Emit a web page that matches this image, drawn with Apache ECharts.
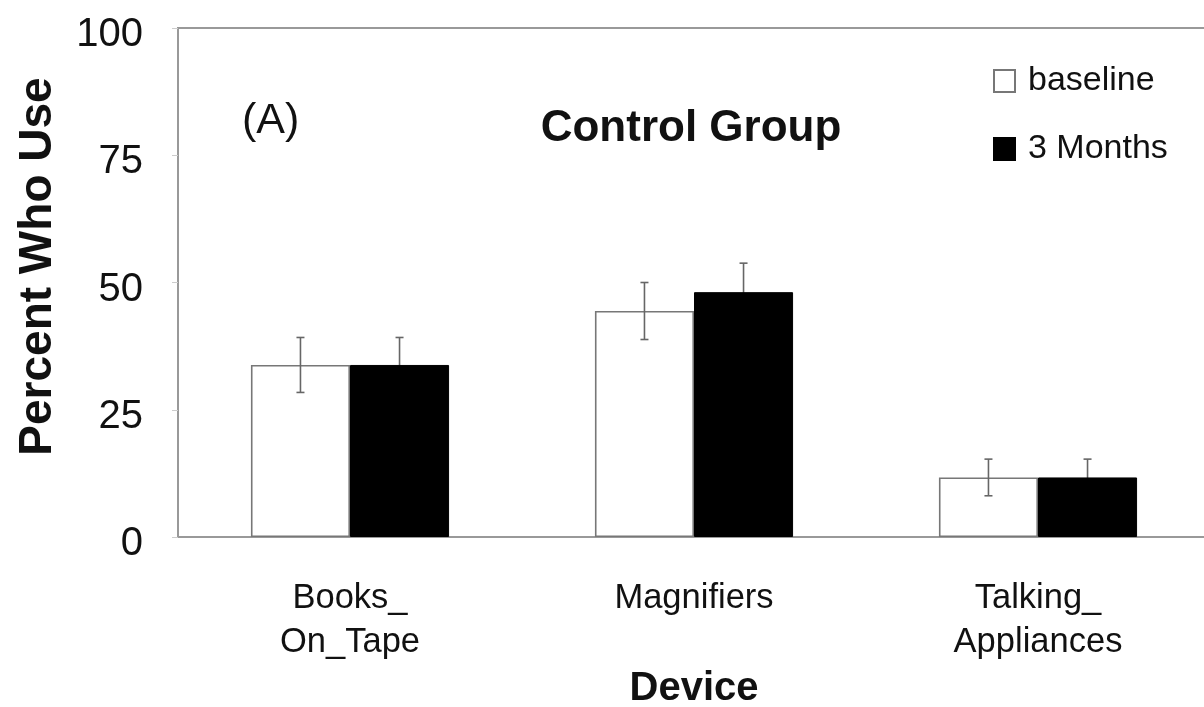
<!DOCTYPE html>
<html><head><meta charset="utf-8">
<script src="https://cdn.jsdelivr.net/npm/echarts@6/dist/echarts.min.js"></script>
<style>html,body{margin:0;padding:0;background:#fff}#c{width:1204px;height:707px}</style>
</head><body><div id="c"></div>
<script>
const categories = ['Books_\nOn_Tape', 'Magnifiers', 'Talking_\nAppliances'];
const seriesNames = ['baseline', '3 Months'];
const baselineValues = [33.8, 44.4, 11.7];
const monthsValues = [33.8, 48.1, 11.7];
const baselineErrors = [5.4, 5.6, 3.6];
const monthsErrors = [5.4, 5.7, 3.6];
const yTicks = [0, 25, 50, 75, 100];

const FONT = '"Liberation Sans", Arial, sans-serif';
const CAT_GAP = 0.424;

function errData(vals, errs) { return vals.map((v, i) => [i, v, errs[i]]); }
function errRender(sign) {
  return function (params, api) {
    const i = api.value(0), v = api.value(1), e = api.value(2);
    const band = api.size([1, 0])[0];
    const off = sign * band * (1 - CAT_GAP) / 4;
    const top = api.coord([i, v + e]);
    const bot = api.coord([i, v - e]);
    const x = top[0] + off;
    const cap = 4;
    const st = { stroke: '#666', lineWidth: 1.6 };
    return { type: 'group', children: [
      { type: 'line', shape: { x1: x, y1: top[1], x2: x, y2: bot[1] }, style: st },
      { type: 'line', shape: { x1: x - cap, y1: top[1], x2: x + cap, y2: top[1] }, style: st },
      { type: 'line', shape: { x1: x - cap, y1: bot[1], x2: x + cap, y2: bot[1] }, style: st }
    ]};
  };
}

const chart = echarts.init(document.getElementById('c'), null, { renderer: 'canvas' });
chart.setOption({
  backgroundColor: '#fff',
  animation: false,
  textStyle: { fontFamily: FONT, color: '#111' },
  title: [
    { text: 'Control Group', left: 686, top: 102, textAlign: 'center',
      textStyle: { fontFamily: FONT, fontSize: 44, fontWeight: 'bold', color: '#111' } },
    { text: '(A)', left: 237, top: 95,
      textStyle: { fontFamily: FONT, fontSize: 43, fontWeight: 'normal', color: '#111' } }
  ],
  legend: {
    orient: 'vertical', left: 988, top: 58, itemGap: 32,
    itemWidth: 21, itemHeight: 22, icon: 'rect',
    data: seriesNames,
    textStyle: { fontFamily: FONT, fontSize: 34, color: '#111', lineHeight: 36, padding: [0, 0, 0, 8] }
  },
  grid: { left: 178, top: 28, width: 1032, height: 509, outerBoundsMode: 'none', containLabel: false,
    show: true, borderColor: '#999', borderWidth: 2, backgroundColor: 'transparent' },
  xAxis: {
    type: 'category', data: categories,
    name: 'Device', nameLocation: 'middle', nameGap: 130,
    nameTextStyle: { fontFamily: FONT, fontSize: 40, fontWeight: 'bold', color: '#111' },
    axisLine: { lineStyle: { color: '#999', width: 2 } },
    axisTick: { show: false },
    axisLabel: { fontFamily: FONT, fontSize: 34.5, color: '#111', lineHeight: 44, margin: 39, interval: 0 }
  },
  yAxis: {
    type: 'value', min: 0, max: 100, interval: 25,
    name: 'Percent Who Use', nameLocation: 'middle', nameGap: 117,
    nameTextStyle: { fontFamily: FONT, fontSize: 46, fontWeight: 'bold', color: '#111', padding: [0, 0, 0, 32] },
    axisLine: { show: true, lineStyle: { color: '#999', width: 2 } },
    axisTick: { show: true, length: 6, lineStyle: { color: '#ccc' } },
    splitLine: { show: false },
    axisLabel: { fontFamily: FONT, fontSize: 40, color: '#111', margin: 35,
      verticalAlign: 'top', lineHeight: 14,
      formatter: v => yTicks.includes(v) ? String(v) : '' }
  },
  series: [
    { name: seriesNames[0], type: 'bar', data: baselineValues, barGap: '0%', barCategoryGap: (CAT_GAP * 100) + '%', z: 2,
      itemStyle: { color: '#fff', borderColor: '#777', borderWidth: 1.6 } },
    { name: seriesNames[1], type: 'bar', data: monthsValues, barGap: '0%', barCategoryGap: (CAT_GAP * 100) + '%', z: 2,
      itemStyle: { color: '#000', borderColor: '#000', borderWidth: 1 } },
    { type: 'custom', data: errData(baselineValues, baselineErrors), renderItem: errRender(-1), z: 3,
      encode: { x: 0, y: 1 }, silent: true },
    { type: 'custom', data: errData(monthsValues, monthsErrors), renderItem: errRender(1), z: 1,
      encode: { x: 0, y: 1 }, silent: true }
  ]
});
</script>
</body></html>
